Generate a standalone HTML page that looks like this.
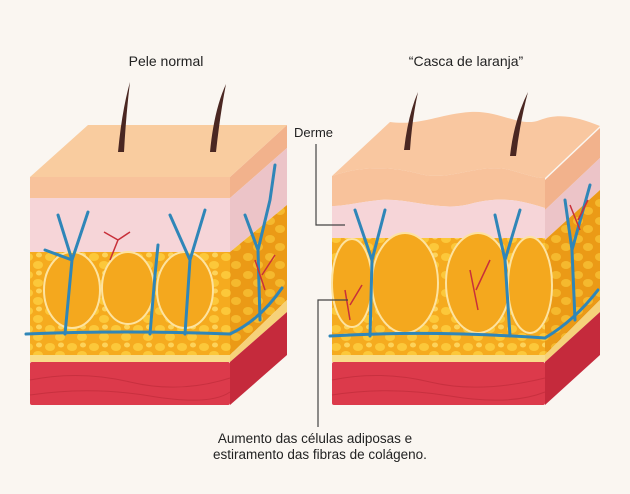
<!DOCTYPE html>
<html><head><meta charset="utf-8"><style>
html,body{margin:0;padding:0;background:#faf6f1;}
svg{display:block}
text{font-family:"Liberation Sans",sans-serif;fill:#222}
</style></head><body>
<svg width="630" height="494" viewBox="0 0 630 494" xmlns="http://www.w3.org/2000/svg">
<defs>
<pattern id="fat" width="22" height="18" patternUnits="userSpaceOnUse">
<rect width="22" height="18" fill="#f5ab1f"/>
<ellipse cx="6" cy="5" rx="5" ry="4" fill="#fcc83a"/>
<ellipse cx="16" cy="13" rx="5" ry="4" fill="#fcc83a"/>
<ellipse cx="17" cy="3" rx="3" ry="2.5" fill="#fdd35a"/>
</pattern>
<pattern id="fatd" width="22" height="18" patternUnits="userSpaceOnUse">
<rect width="22" height="18" fill="#eb9a16"/>
<ellipse cx="6" cy="5" rx="5" ry="4" fill="#f5b92e"/>
<ellipse cx="16" cy="13" rx="5" ry="4" fill="#f5b92e"/>
</pattern>
</defs>
<rect width="630" height="494" fill="#faf6f1"/>

<polygon points="230,177 287,125 287,148 230,198" fill="#f2b28c"/>
<polygon points="230,198 287,148 287,205 230,252" fill="#ecc4c8"/>
<polygon points="230,252 287,205 287,300 230,355" fill="url(#fatd)"/>
<polygon points="230,355 287,300 287,312 230,362" fill="#f6d27a"/>
<polygon points="230,362 287,312 287,355 230,405" fill="#c52a3c"/>
<polygon points="30,177 230,177 287,125 88,125" fill="#f9cc9f"/>
<rect x="30" y="177" width="200" height="21" fill="#f8c29b"/>
<rect x="30" y="198" width="200" height="54" fill="#f6d5d8"/>
<rect x="30" y="252" width="200" height="103" fill="url(#fat)"/>
<ellipse cx="72" cy="290" rx="28" ry="38" fill="#f4a81e" stroke="#fde3a0" stroke-width="2"/>
<ellipse cx="128" cy="288" rx="26" ry="36" fill="#f4a81e" stroke="#fde3a0" stroke-width="2"/>
<ellipse cx="185" cy="290" rx="28" ry="38" fill="#f4a81e" stroke="#fde3a0" stroke-width="2"/>
<rect x="30" y="355" width="200" height="7" fill="#f9dd8a"/>
<rect x="30" y="362" width="200" height="43" fill="#dc3a4b" rx="2"/>
<path d="M30 380 Q80 370 130 382 T230 378 M30 395 Q90 386 150 396 T230 392" stroke="#c8303f" fill="none"/>
<g stroke="#2f86b8" stroke-width="3" fill="none" stroke-linecap="round">
<path d="M26 334 Q120 330 230 334 Q260 320 282 288"/>
<path d="M65 334 L72 260 L58 215 M72 260 L88 212 M72 260 L45 250"/>
<path d="M150 334 L155 275 L158 245"/>
<path d="M185 334 L190 260 L170 215 M190 260 L205 210"/>
<path d="M260 320 L258 250 L245 215 M258 250 L270 200 L275 165"/>
</g>
<g stroke="#c8303a" stroke-width="1.5" fill="none">
<path d="M110 260 L118 240 L130 232 M118 240 L104 232"/>
<path d="M265 290 L255 260 M262 275 L275 255"/>
</g>
<path d="M118 152 Q122 110 130 82 Q126 115 124 152Z" fill="#4a2722"/>
<path d="M210 152 Q214 110 226 84 Q220 115 216 152Z" fill="#4a2722"/>

<polygon points="545,180 600,128 600,158 545,210" fill="#f2b28c"/>
<polygon points="545,210 600,158 600,190 545,240" fill="#ecc4c8"/>
<polygon points="545,240 600,190 600,300 545,355" fill="url(#fatd)"/>
<polygon points="545,355 600,300 600,312 545,362" fill="#f6d27a"/>
<polygon points="545,362 600,312 600,355 545,405" fill="#c52a3c"/>
<path d="M332 176 C360 166 390 166 420 174 C450 182 480 162 510 170 C525 174 535 178 545 178 L600 126 C580 118 560 112 540 120 C520 128 500 110 470 112 C440 114 420 126 390 122 Z" fill="#f9c7a0"/>
<path d="M332 176 C360 166 390 166 420 174 C450 182 480 162 510 170 C525 174 535 178 545 178 L545 208 C520 200 500 196 470 204 C440 212 410 198 380 200 C360 202 345 206 332 206 Z" fill="#f8c29b"/>
<path d="M332 206 C345 206 360 202 380 200 C410 198 440 212 470 204 C500 196 520 200 545 208 L545 240 L332 240 Z" fill="#f6d5d8"/>
<rect x="332" y="238" width="213" height="117" fill="url(#fat)"/>
<ellipse cx="405" cy="283" rx="33" ry="50" fill="#f4a81e" stroke="#fde3a0" stroke-width="2"/>
<ellipse cx="478" cy="283" rx="32" ry="50" fill="#f4a81e" stroke="#fde3a0" stroke-width="2"/>
<ellipse cx="530" cy="285" rx="22" ry="48" fill="#f4a81e" stroke="#fde3a0" stroke-width="2"/>
<ellipse cx="352" cy="283" rx="20" ry="44" fill="#f4a81e" stroke="#fde3a0" stroke-width="2"/>
<rect x="332" y="355" width="213" height="7" fill="#f9dd8a"/>
<rect x="332" y="362" width="213" height="43" fill="#dc3a4b" rx="2"/>
<path d="M332 380 Q380 370 430 382 T545 378 M332 395 Q390 386 450 396 T545 392" stroke="#c8303f" fill="none"/>
<g stroke="#2f86b8" stroke-width="3" fill="none" stroke-linecap="round">
<path d="M330 336 Q430 330 545 338 Q575 320 598 290"/>
<path d="M370 336 L372 260 L355 210 M372 260 L385 210"/>
<path d="M510 336 L505 260 L495 215 M505 260 L520 210"/>
<path d="M575 320 L572 250 L565 200 M572 250 L590 185"/>
</g>
<g stroke="#c8303a" stroke-width="1.5" fill="none">
<path d="M350 320 L345 290 M350 305 L362 285"/>
<path d="M478 310 L470 270 M476 290 L490 260"/>
<path d="M580 230 L570 205 M578 220 L588 200"/>
</g>
<path d="M404 150 Q408 115 418 92 Q412 120 410 150Z" fill="#4a2722"/>
<path d="M510 156 Q514 120 528 92 Q520 122 516 156Z" fill="#4a2722"/>

<text x="166" y="66" font-size="14" text-anchor="middle">Pele normal</text>
<text x="466" y="66" font-size="14" text-anchor="middle">“Casca de laranja”</text>
<text x="294" y="137" font-size="13">Derme</text>
<path d="M316 144 V225 H345" stroke="#444" fill="none" stroke-width="1.2"/>
<path d="M348 300 H318 V427" stroke="#444" fill="none" stroke-width="1.2"/>
<text x="315" y="443" font-size="13.5" text-anchor="middle">Aumento das células adiposas e</text>
<text x="320" y="459" font-size="13.5" text-anchor="middle">estiramento das fibras de colágeno.</text>
</svg>
</body></html>
